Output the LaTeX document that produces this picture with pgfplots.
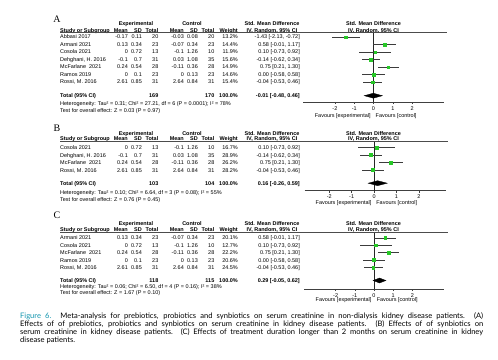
\documentclass[border=0pt]{standalone}
\usepackage{pgfplots}
\pgfplotsset{compat=1.18}
\usepackage{fontspec}
\setmainfont{Liberation Sans}
\newfontfamily\capfont{Lato}
\newfontfamily\letterfont{Liberation Serif}
\definecolor{fgreen}{RGB}{40,200,40}
\definecolor{capteal}{RGB}{20,150,175}
\definecolor{ci}{RGB}{60,60,60}
\newcommand{\tb}{\fontsize{5.5}{6.1}\selectfont}

\def\cN{60}
\def\cMe{128}\def\cSe{142}\def\cTe{158.5}
\def\cMc{184}\def\cSc{198}\def\cTc{214.5}
\def\cW{238}\def\cS{300}
\def\cHe{136}\def\cHc{192}\def\cHs{272}\def\cHf{373.5}

\newcommand{\srow}[9]{%
  \node[tl] at (\cN,#1) {#2};
  \node[tr] at (\cMe,#1) {#3};
  \node[tr] at (\cSe,#1) {#4};
  \node[tr] at (\cTe,#1) {#5};
  \node[tr] at (\cMc,#1) {#6};
  \node[tr] at (\cSc,#1) {#7};
  \node[tr] at (\cTc,#1) {#8};
  \node[tr] at (\cW,#1) {#9};
}
\newcommand{\smd}[2]{\node[tr] at (\cS,#1) {#2};}
\newcommand{\headers}[4]{%
  \node[tc,font=\tb\bfseries] at (\cHe,#1) {Experimental};
  \node[tc,font=\tb\bfseries] at (\cHc,#1) {Control};
  \node[tc,font=\tb\bfseries] at (\cHs,#1) {Std. Mean Difference};
  \node[tc,font=\tb\bfseries] at (\cHf,#1) {Std. Mean Difference};
  \node[tl,font=\tb\bfseries] at (\cN,#2) {Study or Subgroup};
  \node[tr,font=\tb\bfseries] at (\cMe,#2) {Mean};
  \node[tr,font=\tb\bfseries] at (\cSe,#2) {SD};
  \node[tr,font=\tb\bfseries] at (\cTe,#2) {Total};
  \node[tr,font=\tb\bfseries] at (\cMc,#2) {Mean};
  \node[tr,font=\tb\bfseries] at (\cSc,#2) {SD};
  \node[tr,font=\tb\bfseries] at (\cTc,#2) {Total};
  \node[tr,font=\tb\bfseries] at (\cW,#2) {Weight};
  \node[tc,font=\tb\bfseries] at (\cHs,#2) {IV, Random, 95\% CI};
  \node[tc,font=\tb\bfseries] at (\cHf,#2) {IV, Random, 95\% CI};
  \draw[black!70, line width=0.5bp] (\cN,#3) -- (#4,#3);
}

\pgfplotsset{
  forest/.style={
    scale only axis, clip=false, anchor=south west,
    axis x line*=bottom, hide y axis,
    x axis line style={draw=black!75, line width=0.5bp, -},
    xtick={-2,-1,0,1,2}, xticklabels={-2,-1,0,1,2},
    tick align=outside, major tick length=2.2bp,
    tick style={draw=black!75, line width=0.5bp},
    xticklabel style={font=\tb, inner sep=0pt, anchor=north, yshift=-2bp},
    ytick=\empty,
  },
  zero/.style={draw=black!85, line width=0.5bp},
  study/.style={only marks, mark=square*, mark options={fill=fgreen, draw=fgreen},
    error bars/x dir=both, error bars/x explicit, error bars/error mark=none,
    error bars/error bar style={draw=ci, line width=0.5bp}},
  diam/.style={fill=black, draw=black, line width=0.3bp},
}

\begin{document}
\begin{tikzpicture}
\path[use as bounding box, fill=white] (0,0) rectangle (498bp,-360bp);

% ---------------- forest axes ----------------
\begin{axis}[forest, at={(303bp,-102bp)}, width=141bp, height=69.3bp,
  xmin=-3.65, xmax=3.65, ymin=-102, ymax=-32.7]
\addplot[zero] coordinates {(0,-32.7) (0,-102)};
\addplot[mark size=1.25bp, study] coordinates {
 (-1.43,-37)   += (0.71,0) -= (0.70,0)
 (0.58,-44.5)  += (0.59,0) -= (0.59,0)
 (0.10,-52)    += (0.82,0) -= (0.83,0)
 (-0.14,-59.5) += (0.48,0) -= (0.48,0)
 (0.75,-67)    += (0.55,0) -= (0.54,0)
 (0.00,-74.5)  += (0.58,0) -= (0.58,0)
 (-0.04,-82)   += (0.50,0) -= (0.49,0)
};
\addplot[diam] coordinates {(-0.48,-95.7) (-0.01,-93.2) (0.46,-95.7) (-0.01,-98.2)} -- cycle;
\end{axis}

\begin{axis}[forest, at={(304.6bp,-190.7bp)}, width=141.1bp, height=49.3bp,
  xmin=-3.1, xmax=3.2, ymin=-190.7, ymax=-141.4]
\addplot[zero] coordinates {(0,-141.4) (0,-190.7)};
\addplot[mark size=1.5bp, study] coordinates {
 (0.10,-147.3)  += (0.82,0) -= (0.83,0)
 (-0.14,-154.8) += (0.48,0) -= (0.48,0)
 (0.75,-162.3)  += (0.55,0) -= (0.54,0)
 (-0.04,-169.8) += (0.50,0) -= (0.49,0)
};
\addplot[diam] coordinates {(-0.26,-183.2) (0.16,-180.7) (0.59,-183.2) (0.16,-185.7)} -- cycle;
\end{axis}

\begin{axis}[forest, at={(304bp,-289bp)}, width=140bp, height=57bp,
  xmin=-3.65, xmax=3.65, ymin=-289, ymax=-232]
\addplot[zero] coordinates {(0,-232) (0,-289)};
\addplot[mark size=1.4bp, study] coordinates {
 (0.58,-237.8)  += (0.59,0) -= (0.59,0)
 (0.10,-245.2)  += (0.82,0) -= (0.83,0)
 (0.75,-252.6)  += (0.55,0) -= (0.54,0)
 (0.00,-260)    += (0.58,0) -= (0.58,0)
 (-0.04,-267.4) += (0.50,0) -= (0.49,0)
};
\addplot[diam] coordinates {(-0.05,-280.5) (0.29,-278) (0.62,-280.5) (0.29,-283)} -- cycle;
\end{axis}

% ---------------- text ----------------
\begin{scope}[x=1bp, y=-1bp,
  tl/.style={anchor=base west, inner sep=0pt, font=\tb, yshift=-1.95bp},
  tr/.style={anchor=base east, inner sep=0pt, font=\tb, yshift=-1.95bp},
  tc/.style={anchor=base, inner sep=0pt, font=\tb, yshift=-1.95bp}]

% Panel A
\node[inner sep=0pt, font=\letterfont\fontsize{10}{10}\selectfont] at (57,19.5) {A};
\headers{24}{30.3}{32.7}{447}
\srow{37}{Abbasi 2017}{-0.17}{0.11}{20}{-0.03}{0.08}{20}{13.2\%}
\smd{37}{-1.43 [-2.13, -0.72]}
\srow{44.5}{Armani 2021}{0.13}{0.34}{23}{-0.07}{0.34}{23}{14.4\%}
\smd{44.5}{0.58 [-0.01, 1.17]}
\srow{52}{Cosola 2021}{0}{0.72}{13}{-0.1}{1.26}{10}{11.9\%}
\smd{52}{0.10 [-0.73, 0.92]}
\srow{59.5}{Dehghani, H. 2016}{-0.1}{0.7}{31}{0.03}{1.08}{35}{15.6\%}
\smd{59.5}{-0.14 [-0.62, 0.34]}
\srow{67}{McFarlane\ \ 2021}{0.24}{0.54}{28}{-0.11}{0.36}{28}{14.9\%}
\smd{67}{0.75 [0.21, 1.30]}
\srow{74.5}{Ramos 2019}{0}{0.1}{23}{0}{0.13}{23}{14.6\%}
\smd{74.5}{0.00 [-0.58, 0.58]}
\srow{82}{Rossi, M. 2016}{2.61}{0.85}{31}{2.64}{0.84}{31}{15.4\%}
\smd{82}{-0.04 [-0.53, 0.46]}
\node[tl,font=\tb\bfseries] at (\cN,95.7) {Total (95\% CI)};
\node[tr,font=\tb\bfseries] at (\cTe,95.7) {169};
\node[tr,font=\tb\bfseries] at (\cTc,95.7) {170};
\node[tr,font=\tb\bfseries] at (\cW,95.7) {100.0\%};
\node[tr,font=\tb\bfseries] at (\cS,95.7) {-0.01 [-0.48, 0.46]};
\node[tl] at (\cN,103.8) {Heterogeneity: Tau² = 0.31; Chi² = 27.21, df = 6 (P = 0.0001); I² = 78\%};
\node[tl] at (\cN,110.2) {Test for overall effect: Z = 0.03 (P = 0.97)};
\node[tr] at (370.8,115.3) {Favours [experimental]};
\node[tl] at (375.5,115.3) {Favours [control]};

% Panel B
\node[inner sep=0pt, font=\letterfont\fontsize{10}{10}\selectfont] at (57,128.5) {B};
\headers{134}{139}{141.4}{448}
\srow{147.8}{Cosola 2021}{0}{0.72}{13}{-0.1}{1.26}{10}{16.7\%}
\smd{147.8}{0.10 [-0.73, 0.92]}
\srow{155.3}{Dehghani, H. 2016}{-0.1}{0.7}{31}{0.03}{1.08}{35}{28.9\%}
\smd{155.3}{-0.14 [-0.62, 0.34]}
\srow{162.8}{McFarlane\ \ 2021}{0.24}{0.54}{28}{-0.11}{0.36}{28}{26.2\%}
\smd{162.8}{0.75 [0.21, 1.30]}
\srow{170.3}{Rossi, M. 2016}{2.61}{0.85}{31}{2.64}{0.84}{31}{28.2\%}
\smd{170.3}{-0.04 [-0.53, 0.46]}
\node[tl,font=\tb\bfseries] at (\cN,183.8) {Total (95\% CI)};
\node[tr,font=\tb\bfseries] at (\cTe,183.8) {103};
\node[tr,font=\tb\bfseries] at (\cTc,183.8) {104};
\node[tr,font=\tb\bfseries] at (\cW,183.8) {100.0\%};
\node[tr,font=\tb\bfseries] at (\cS,183.8) {0.16 [-0.26, 0.59]};
\node[tl] at (\cN,192.3) {Heterogeneity: Tau² = 0.10; Chi² = 6.64, df = 3 (P = 0.08); I² = 55\%};
\node[tl] at (\cN,199.3) {Test for overall effect: Z = 0.76 (P = 0.45)};
\node[tr] at (371.6,202.5) {Favours [experimental]};
\node[tl] at (376.2,202.5) {Favours [control]};

% Panel C
\node[inner sep=0pt, font=\letterfont\fontsize{10}{10}\selectfont] at (57,215) {C};
\headers{223.5}{229.6}{232}{448}
\srow{238}{Armani 2021}{0.13}{0.34}{23}{-0.07}{0.34}{23}{20.1\%}
\smd{238}{0.58 [-0.01, 1.17]}
\srow{245.4}{Cosola 2021}{0}{0.72}{13}{-0.1}{1.26}{10}{12.7\%}
\smd{245.4}{0.10 [-0.73, 0.92]}
\srow{252.8}{McFarlane\ \ 2021}{0.24}{0.54}{28}{-0.11}{0.36}{28}{22.2\%}
\smd{252.8}{0.75 [0.21, 1.30]}
\srow{260.2}{Ramos 2019}{0}{0.1}{23}{0}{0.13}{23}{20.6\%}
\smd{260.2}{0.00 [-0.58, 0.58]}
\srow{267.6}{Rossi, M. 2016}{2.61}{0.85}{31}{2.64}{0.84}{31}{24.5\%}
\smd{267.6}{-0.04 [-0.53, 0.46]}
\node[tl,font=\tb\bfseries] at (\cN,280.5) {Total (95\% CI)};
\node[tr,font=\tb\bfseries] at (\cTe,280.5) {118};
\node[tr,font=\tb\bfseries] at (\cTc,280.5) {115};
\node[tr,font=\tb\bfseries] at (\cW,280.5) {100.0\%};
\node[tr,font=\tb\bfseries] at (\cS,280.5) {0.29 [-0.05, 0.62]};
\node[tl] at (\cN,286.5) {Heterogeneity: Tau² = 0.06; Chi² = 6.50, df = 4 (P = 0.16); I² = 38\%};
\node[tl] at (\cN,292.3) {Test for overall effect: Z = 1.67 (P = 0.10)};
\node[tr] at (371.6,300) {Favours [experimental]};
\node[tl] at (376.6,300) {Favours [control]};

% Caption
\node[anchor=base west, inner sep=0pt] at (20,318) {\parbox[t]{463bp}{\capfont\fontsize{7.6}{8.3}\selectfont\noindent
\textcolor{capteal}{Figure 6.} Meta-analysis for prebiotics, probiotics and synbiotics on serum creatinine in non-dialysis kidney disease patients. (A)\linebreak
Effects of of prebiotics, probiotics and synbiotics on serum creatinine in kidney disease patients. (B) Effects of of synbiotics on\linebreak
serum creatinine in kidney disease patients. (C) Effects of treatment duration longer than 2 months on serum creatinine in kidney\linebreak
disease patients.}};
\end{scope}
\end{tikzpicture}
\end{document}
